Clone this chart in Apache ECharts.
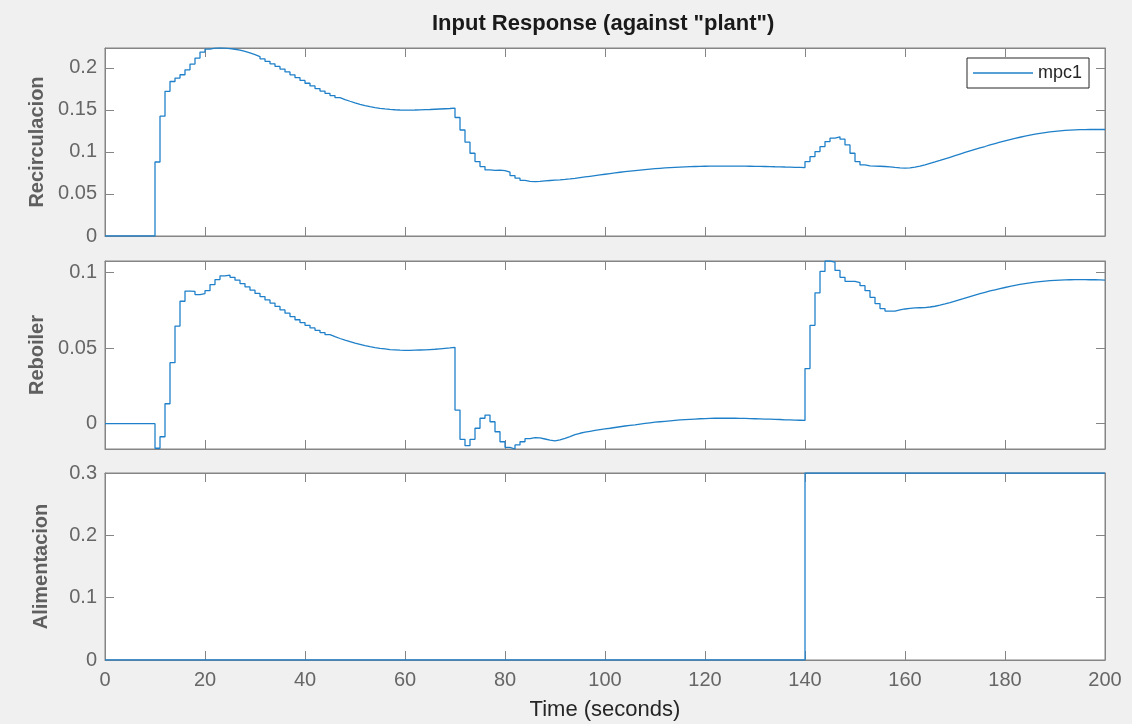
<!DOCTYPE html>
<html>
<head>
<meta charset="utf-8">
<title>Input Response (against "plant")</title>
<script src="https://cdn.jsdelivr.net/npm/echarts@6/dist/echarts.min.js"></script>
<style>
  html, body { margin: 0; padding: 0; background: #f0f0f0; }
  #chart { width: 1132px; height: 724px; }
</style>
</head>
<body>
<div id="chart"></div>
<script>
// Controller sample time (s): sample k is held from k*Ts to (k+1)*Ts
const Ts = 1;

// Manipulated variable "Recirculacion", one value per sample, t = 0..200 s
const recirculacion = [
  0, 0, 0, 0, 0, 0, 0, 0, 0, 0,
  0.088, 0.1425, 0.172, 0.1837, 0.1877, 0.1917, 0.1976, 0.2044, 0.2115, 0.2187,
  0.2222, 0.2233, 0.2235, 0.2233, 0.2228, 0.222, 0.221, 0.2195, 0.2177, 0.2156,
  0.2133, 0.2106, 0.2077, 0.2047, 0.2016, 0.1984, 0.195, 0.1916, 0.1882, 0.1849,
  0.1816, 0.1784, 0.1753, 0.1723, 0.1695, 0.1669, 0.1645, 0.1622, 0.1602, 0.1583,
  0.1566, 0.1551, 0.1538, 0.1527, 0.1518, 0.1511, 0.1505, 0.1501, 0.1498, 0.1497,
  0.1497, 0.1498, 0.15, 0.1502, 0.1504, 0.1507, 0.151, 0.1513, 0.1516, 0.152,
  0.1409, 0.126, 0.1115, 0.0984, 0.0885, 0.0825, 0.0785, 0.078, 0.0782, 0.0776,
  0.0758, 0.0718, 0.0687, 0.0662, 0.065, 0.0647, 0.065, 0.0655, 0.066, 0.0664,
  0.0668, 0.0673, 0.0679, 0.0686, 0.0694, 0.0702, 0.071, 0.0718, 0.0726, 0.0734,
  0.0742, 0.075, 0.0758, 0.0765, 0.0772, 0.0778, 0.0784, 0.079, 0.0795, 0.08,
  0.0805, 0.0809, 0.0813, 0.0816, 0.0819, 0.0822, 0.0824, 0.0826, 0.0828, 0.0829,
  0.083, 0.0831, 0.0831, 0.0831, 0.0831, 0.0831, 0.083, 0.083, 0.0829, 0.0828,
  0.0827, 0.0826, 0.0825, 0.0823, 0.0822, 0.082, 0.0819, 0.0817, 0.0815, 0.0813,
  0.0885, 0.0944, 0.1004, 0.1063, 0.1123, 0.1163, 0.1179, 0.1151, 0.1083, 0.0984,
  0.0885, 0.0845, 0.0833, 0.083, 0.0829, 0.0826, 0.0822, 0.0816, 0.0811, 0.0808,
  0.0809, 0.0818, 0.083, 0.0846, 0.0863, 0.088, 0.0898, 0.0917, 0.0936, 0.0955,
  0.0974, 0.0993, 0.1011, 0.1029, 0.1047, 0.1064, 0.1082, 0.1099, 0.1115, 0.1131,
  0.1146, 0.116, 0.1174, 0.1187, 0.1199, 0.121, 0.122, 0.1229, 0.1237, 0.1244,
  0.125, 0.1255, 0.1259, 0.1262, 0.1264, 0.1265, 0.1266, 0.1266, 0.1266, 0.1266,
  0.1266
];

// Manipulated variable "Reboiler"
const reboiler = [
  0, 0, 0, 0, 0, 0, 0, 0, 0, 0,
  -0.0162, -0.0086, 0.0132, 0.0403, 0.0645, 0.0809, 0.0876, 0.0874, 0.0853, 0.086,
  0.0879, 0.0919, 0.0952, 0.0977, 0.0981, 0.0967, 0.0948, 0.0926, 0.0904, 0.0882,
  0.0861, 0.084, 0.0818, 0.0797, 0.0775, 0.0752, 0.073, 0.0708, 0.0687, 0.0668,
  0.065, 0.0633, 0.0617, 0.0602, 0.0588, 0.0575, 0.0563, 0.0552, 0.0542, 0.0532,
  0.0524, 0.0516, 0.0509, 0.0503, 0.0498, 0.0494, 0.049, 0.0488, 0.0486, 0.0485,
  0.0485, 0.0486, 0.0487, 0.0488, 0.049, 0.0492, 0.0495, 0.0498, 0.0501, 0.0505,
  0.009, -0.0103, -0.0145, -0.0103, -0.003, 0.0036, 0.0057, 0.0013, -0.0053, -0.0119,
  -0.0156, -0.0167, -0.014, -0.0119, -0.0099, -0.0092, -0.0094, -0.0101, -0.0108, -0.0114,
  -0.0107, -0.0097, -0.0085, -0.0072, -0.0063, -0.0056, -0.005, -0.0044, -0.0039, -0.0034,
  -0.003, -0.0025, -0.002, -0.0015, -0.0011, -0.0007, -0.0002, 0.0002, 0.0006, 0.001,
  0.0013, 0.0016, 0.0019, 0.0022, 0.0025, 0.0027, 0.0029, 0.0031, 0.0033, 0.0034,
  0.0035, 0.0036, 0.0036, 0.0036, 0.0036, 0.0036, 0.0035, 0.0035, 0.0034, 0.0033,
  0.0032, 0.0031, 0.003, 0.0029, 0.0028, 0.0026, 0.0025, 0.0024, 0.0023, 0.0022,
  0.0364, 0.065, 0.0865, 0.1006, 0.1075, 0.1067, 0.1013, 0.0967, 0.0941, 0.094,
  0.0932, 0.0912, 0.0879, 0.0835, 0.0794, 0.0761, 0.0744, 0.0744, 0.0752, 0.0758,
  0.0762, 0.0765, 0.0766, 0.0767, 0.0771, 0.0776, 0.0783, 0.0791, 0.08, 0.081,
  0.082, 0.083, 0.084, 0.085, 0.0859, 0.0868, 0.0877, 0.0885, 0.0893, 0.09,
  0.0907, 0.0914, 0.092, 0.0926, 0.0931, 0.0935, 0.0939, 0.0942, 0.0945, 0.0947,
  0.0949, 0.095, 0.0951, 0.0952, 0.0952, 0.0952, 0.0951, 0.0951, 0.095, 0.0949,
  0.0948
];

// Measured disturbance "Alimentacion": step of 0.3 at t = 140 s
const alimentacion = [
  0, 0, 0, 0, 0, 0, 0, 0, 0, 0, 0, 0, 0, 0, 0, 0, 0, 0, 0, 0,
  0, 0, 0, 0, 0, 0, 0, 0, 0, 0, 0, 0, 0, 0, 0, 0, 0, 0, 0, 0,
  0, 0, 0, 0, 0, 0, 0, 0, 0, 0, 0, 0, 0, 0, 0, 0, 0, 0, 0, 0,
  0, 0, 0, 0, 0, 0, 0, 0, 0, 0, 0, 0, 0, 0, 0, 0, 0, 0, 0, 0,
  0, 0, 0, 0, 0, 0, 0, 0, 0, 0, 0, 0, 0, 0, 0, 0, 0, 0, 0, 0,
  0, 0, 0, 0, 0, 0, 0, 0, 0, 0, 0, 0, 0, 0, 0, 0, 0, 0, 0, 0,
  0, 0, 0, 0, 0, 0, 0, 0, 0, 0, 0, 0, 0, 0, 0, 0, 0, 0, 0, 0,
  0.3, 0.3, 0.3, 0.3, 0.3, 0.3, 0.3, 0.3, 0.3, 0.3, 0.3, 0.3, 0.3, 0.3, 0.3, 0.3, 0.3, 0.3, 0.3, 0.3,
  0.3, 0.3, 0.3, 0.3, 0.3, 0.3, 0.3, 0.3, 0.3, 0.3, 0.3, 0.3, 0.3, 0.3, 0.3, 0.3, 0.3, 0.3, 0.3, 0.3,
  0.3, 0.3, 0.3, 0.3, 0.3, 0.3, 0.3, 0.3, 0.3, 0.3, 0.3, 0.3, 0.3, 0.3, 0.3, 0.3, 0.3, 0.3, 0.3, 0.3,
  0.3
];

// Axis ticks and labels
const timeTicks = [0, 20, 40, 60, 80, 100, 120, 140, 160, 180, 200];
const recirculacionTicks = [0, 0.05, 0.1, 0.15, 0.2];
const reboilerTicks = [0, 0.05, 0.1];
const alimentacionTicks = [0, 0.1, 0.2, 0.3];
const panelNames = ['Recirculacion', 'Reboiler', 'Alimentacion'];
const chartTitle = 'Input Response (against "plant")';
const timeLabel = 'Time (seconds)';
const seriesName = 'mpc1';

const FONT = '"Liberation Sans", Arial, Helvetica, sans-serif';
const AXIS_GRAY = '#858585';
const LABEL_GRAY = '#666666';
const LINE_BLUE = '#1f80c9';

function toPoints(values) {
  return values.map((v, k) => [k * Ts, v]);
}

const panels = [
  { values: recirculacion, ticks: recirculacionTicks, min: 0, max: Math.max(...recirculacion) },
  { values: reboiler, ticks: reboilerTicks, min: Math.min(...reboiler), max: Math.max(...reboiler) },
  { values: alimentacion, ticks: alimentacionTicks, min: 0, max: 0.3 }
];

const gridBoxes = [
  { top: 48, height: 188 },
  { top: 261, height: 188 },
  { top: 473, height: 187 }
];

const grid = [], xAxis = [], yAxis = [], series = [];

panels.forEach((p, i) => {
  grid.push({
    left: 105, right: 27, top: gridBoxes[i].top, height: gridBoxes[i].height,
    show: true, backgroundColor: '#ffffff', borderColor: AXIS_GRAY, borderWidth: 1
  });
  const isBottom = i === panels.length - 1;
  const lineStyle = { color: AXIS_GRAY, width: 1 };
  // bottom and top time axes (ticks pointing inward on both sides)
  ['bottom', 'top'].forEach(pos => {
    const showLabels = isBottom && pos === 'bottom';
    xAxis.push({
      type: 'value', gridIndex: i, position: pos, min: 0, max: 200,
      axisLine: { show: true, onZero: false, lineStyle },
      axisTick: { show: true, inside: true, length: 9, customValues: timeTicks, lineStyle },
      axisLabel: {
        show: showLabels, customValues: timeTicks, margin: 10,
        fontSize: 20, color: LABEL_GRAY, fontFamily: FONT
      },
      splitLine: { show: false },
      name: showLabels ? timeLabel : '',
      nameLocation: 'middle', nameGap: 39,
      nameTextStyle: { fontSize: 22, color: '#262626', fontFamily: FONT }
    });
  });
  // left and right value axes
  ['left', 'right'].forEach(pos => {
    const isLeft = pos === 'left';
    yAxis.push({
      type: 'value', gridIndex: i, position: pos, min: p.min, max: p.max,
      axisLine: { show: true, onZero: false, lineStyle },
      axisTick: { show: true, inside: true, length: 9, customValues: p.ticks, lineStyle },
      axisLabel: {
        show: isLeft, customValues: p.ticks, margin: 8,
        fontSize: 20, color: LABEL_GRAY, fontFamily: FONT
      },
      splitLine: { show: false },
      name: isLeft ? panelNames[i] : '',
      nameLocation: 'middle', nameGap: 54,
      nameTextStyle: { fontSize: 20, fontWeight: 'bold', color: '#5f5f5f', fontFamily: FONT }
    });
  });
  series.push({
    name: seriesName, type: 'line', step: 'end',
    xAxisIndex: 2 * i, yAxisIndex: 2 * i,
    data: toPoints(p.values),
    symbol: 'none', showSymbol: false,
    lineStyle: { color: LINE_BLUE, width: 1.3 },
    itemStyle: { color: LINE_BLUE },
    clip: true, animation: false
  });
});

const chart = echarts.init(document.getElementById('chart'), null, { renderer: 'canvas' });
chart.setOption({
  backgroundColor: '#f0f0f0',
  animation: false,
  title: {
    text: chartTitle, left: 427, top: 8,
    textStyle: { fontSize: 22, fontWeight: 'bold', color: '#1a1a1a', fontFamily: FONT }
  },
  legend: {
    data: [{ name: seriesName, icon: 'rect' }], left: 967, top: 58,
    padding: [6, 7, 6, 6], itemWidth: 60, itemHeight: 1.3, itemGap: 5,
    backgroundColor: '#ffffff', borderColor: '#262626', borderWidth: 1, borderRadius: 0,
    textStyle: { fontSize: 18, color: '#262626', fontFamily: FONT, padding: [0, 0, 0, 0] },
    selectedMode: false
  },
  grid, xAxis, yAxis, series
});
</script>
</body>
</html>
